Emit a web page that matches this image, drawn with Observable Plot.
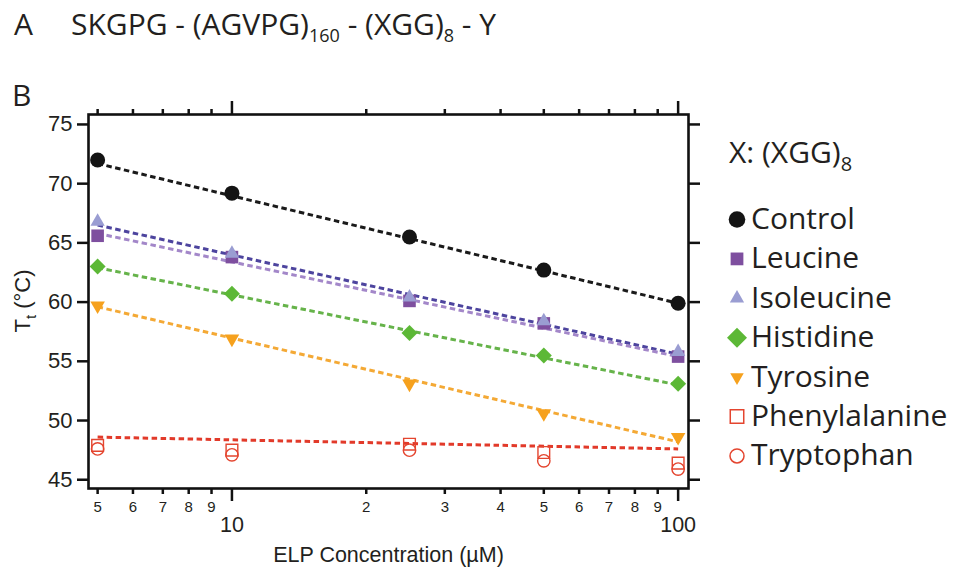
<!DOCTYPE html>
<html>
<head>
<meta charset="utf-8">
<script src="https://cdn.jsdelivr.net/npm/d3@7"></script>
<script src="https://cdn.jsdelivr.net/npm/@observablehq/plot@0.6"></script>
<style>
  html, body { margin: 0; padding: 0; background: #fff; }
  #wrap { position: relative; width: 954px; height: 569px; overflow: hidden; }
  #wrap > svg { position: absolute; left: 0; top: 0; }
  .myriad { font-family: "Open Sans", "Noto Sans", sans-serif; fill: #231f20; }
  .arial { font-family: "Liberation Sans", Arial, sans-serif; fill: #231f20; }
</style>
</head>
<body>
<div id="wrap"></div>
<script>
// ---------- data ----------
const conc = [5, 10, 25, 50, 100];
const seriesNames = ["Control", "Leucine", "Isoleucine", "Histidine", "Tyrosine", "Phenylalanine", "Tryptophan"];
const control       = [72.0, 69.2, 65.5, 62.7, 59.9];
const leucine       = [65.6, 63.8, 60.1, 58.2, 55.4];
const isoleucine    = [66.8, 64.1, 60.4, 58.4, 55.8];
const histidine     = [63.0, 60.7, 57.4, 55.5, 53.1];
const tyrosine      = [59.7, 56.9, 53.1, 50.6, 48.6];
const phenylalanine = [47.9, 47.5, 48.0, 47.3, 46.4];
const tryptophan    = [47.6, 47.1, 47.5, 46.6, 45.9];

// dashed fit lines: value at the first and last concentration
const fitConc = [5, 100];
const fitNames = ["Control", "Isoleucine", "Leucine", "Histidine", "Tyrosine", "Aromatic"];
const fitControl    = [71.7, 59.9];
const fitIsoleucine = [66.5, 55.6];
const fitLeucine    = [65.8, 55.4];
const fitHistidine  = [62.9, 53.0];
const fitTyrosine   = [59.6, 48.2];
const fitAromatic   = [48.6, 47.6];

const yTicks = [45, 50, 55, 60, 65, 70, 75];
const xMinorTicks = [5, 6, 7, 8, 9, 20, 30, 40, 50, 60, 70, 80, 90];
const xMinorLabels = ["5", "6", "7", "8", "9", "2", "3", "4", "5", "6", "7", "8", "9"];
const xMajorTicks = [10, 100];

// ---------- styles ----------
const triDown = {
  draw(context, size) {
    const y = Math.sqrt(size / (Math.sqrt(3) * 3));
    context.moveTo(0, 2 * y);
    context.lineTo(-Math.sqrt(3) * y, -y);
    context.lineTo(Math.sqrt(3) * y, -y);
    context.closePath();
  }
};
const dotStyle = {
  Control:       {symbol: "circle",   r: 7.5, fill: "#141414", stroke: "none"},
  Leucine:       {symbol: "square",   r: 7.1, fill: "#7e4f9f", stroke: "none"},
  Isoleucine:    {symbol: "triangle", r: 5.3, fill: "#9a9dd2", stroke: "none"},
  Histidine:     {symbol: "diamond2", r: 7.2, fill: "#5cb836", stroke: "none"},
  Tyrosine:      {symbol: triDown,    r: 5.4, fill: "#f6a11d", stroke: "none"},
  Phenylalanine: {symbol: "square",   r: 6.6, fill: "none",    stroke: "#e4452f"},
  Tryptophan:    {symbol: "circle",   r: 6.2, fill: "none",    stroke: "#e4452f"}
};
const lineColor = {
  Control: "#1a1a1a", Isoleucine: "#4d449e", Leucine: "#a387c9",
  Histidine: "#66b34a", Tyrosine: "#f4a935", Aromatic: "#e23a2a"
};

const seriesValues = [control, leucine, isoleucine, histidine, tyrosine, phenylalanine, tryptophan];
const fitValues = [fitControl, fitIsoleucine, fitLeucine, fitHistidine, fitTyrosine, fitAromatic];

const marks = [];
fitNames.forEach((name, k) => {
  const rows = fitConc.map((c, i) => ({conc: c, temp: fitValues[k][i]}));
  marks.push(Plot.line(rows, {
    x: "conc", y: "temp", stroke: lineColor[name], strokeWidth: 3,
    strokeDasharray: "5.5,3.5", strokeLinecap: "butt"
  }));
});
seriesNames.forEach((name, k) => {
  const rows = conc.map((c, i) => ({conc: c, temp: seriesValues[k][i], series: name}));
  const s = dotStyle[name];
  marks.push(Plot.dot(rows, {
    x: "conc", y: "temp", symbol: s.symbol, r: s.r, fill: s.fill,
    stroke: s.stroke, strokeWidth: s.stroke === "none" ? 0 : 1.4
  }));
});

const minorRows = xMinorTicks.map((v, i) => ({v, label: xMinorLabels[i]}));
marks.push(
  Plot.frame({stroke: "#111", strokeWidth: 2.6}),
  Plot.axisY({anchor: "left", ticks: yTicks, tickSize: 11, tickPadding: 5, strokeWidth: 2.5,
              fontSize: 22, label: null, tickFormat: d => String(d), stroke: "#111"}),
  Plot.axisY({anchor: "right", ticks: yTicks, tickSize: 11, strokeWidth: 2.5,
              tickFormat: () => "", label: null, stroke: "#111"}),
  Plot.axisX({anchor: "top", ticks: xMinorTicks, tickSize: 6, strokeWidth: 2.5,
              tickFormat: () => "", label: null, stroke: "#111"}),
  Plot.axisX({anchor: "top", ticks: xMajorTicks, tickSize: 14, strokeWidth: 2.5,
              tickFormat: () => "", label: null, stroke: "#111"}),
  Plot.axisX({anchor: "bottom", ticks: xMinorTicks, tickSize: 6, strokeWidth: 2.5,
              tickFormat: () => "", label: null, stroke: "#111"}),
  Plot.text(minorRows, {x: "v", text: "label", frameAnchor: "bottom", lineAnchor: "top",
              dy: 13, fontSize: 15, fill: "#231f20"}),
  Plot.axisX({anchor: "bottom", ticks: xMajorTicks, tickSize: 13, tickPadding: 15, strokeWidth: 2.5,
              fontSize: 21.5, tickFormat: d => String(d), stroke: "#111",
              label: "ELP Concentration (µM)", labelAnchor: "center", labelOffset: 73, labelArrow: "none"})
);

const chart = Plot.plot({
  width: 954, height: 569,
  marginTop: 114, marginRight: 266, marginBottom: 81, marginLeft: 88,
  x: {type: "log", domain: [4.77, 105.5]},
  y: {domain: [44.26, 75.84]},
  style: {fontFamily: "'Liberation Sans', Arial, sans-serif", color: "#231f20", background: "transparent", overflow: "visible"},
  marks
});
document.getElementById("wrap").appendChild(chart);

// ---------- overlay: panel letters, title, y label, legend ----------
const ov = d3.select("#wrap").append("svg").attr("width", 954).attr("height", 569);
ov.append("text").attr("class", "myriad").attr("x", 14).attr("y", 35).attr("font-size", 30).text("A");
const t = ov.append("text").attr("class", "myriad").attr("x", 71).attr("y", 35).attr("font-size", 30);
t.append("tspan").text("SKGPG - (AGVPG)");
t.append("tspan").attr("font-size", 18).attr("dy", 7).text("160");
t.append("tspan").attr("dy", -7).text(" - (XGG)");
t.append("tspan").attr("font-size", 18).attr("dy", 7).text("8");
t.append("tspan").attr("dy", -7).text(" - Y");
ov.append("text").attr("class", "myriad").attr("x", 12).attr("y", 106).attr("font-size", 30).text("B");

const yl = ov.append("text").attr("class", "arial").attr("font-size", 22).attr("text-anchor", "middle")
  .attr("transform", "translate(30,301) rotate(-90)");
yl.append("tspan").text("T");
yl.append("tspan").attr("font-size", 15).attr("dy", 6).text("t");
yl.append("tspan").attr("dy", -6).text(" (°C)");

const lh = ov.append("text").attr("class", "myriad").attr("x", 729).attr("y", 163).attr("font-size", 30);
lh.append("tspan").text("X: (XGG)");
lh.append("tspan").attr("font-size", 20).attr("dy", 8).text("8");

const legendSize = {Control: 8.3, Leucine: 7.2, Isoleucine: 5.3, Histidine: 9.0, Tyrosine: 5.0, Phenylalanine: 7.6, Tryptophan: 7.0};
seriesNames.forEach((name, i) => {
  const base = 229 + i * 39.4;
  const s = dotStyle[name];
  const sym = typeof s.symbol === "string"
    ? {circle: d3.symbolCircle, square: d3.symbolSquare, triangle: d3.symbolTriangle, diamond2: d3.symbolDiamond2}[s.symbol]
    : s.symbol;
  const r = legendSize[name];
  ov.append("path")
    .attr("transform", `translate(737,${base - 9.5})`)
    .attr("d", d3.symbol(sym, Math.PI * r * r)())
    .attr("fill", s.fill).attr("stroke", s.stroke).attr("stroke-width", s.stroke === "none" ? 0 : 1.5);
  ov.append("text").attr("class", "myriad").attr("x", 751).attr("y", base).attr("font-size", 30).text(name);
});
</script>
</body>
</html>
